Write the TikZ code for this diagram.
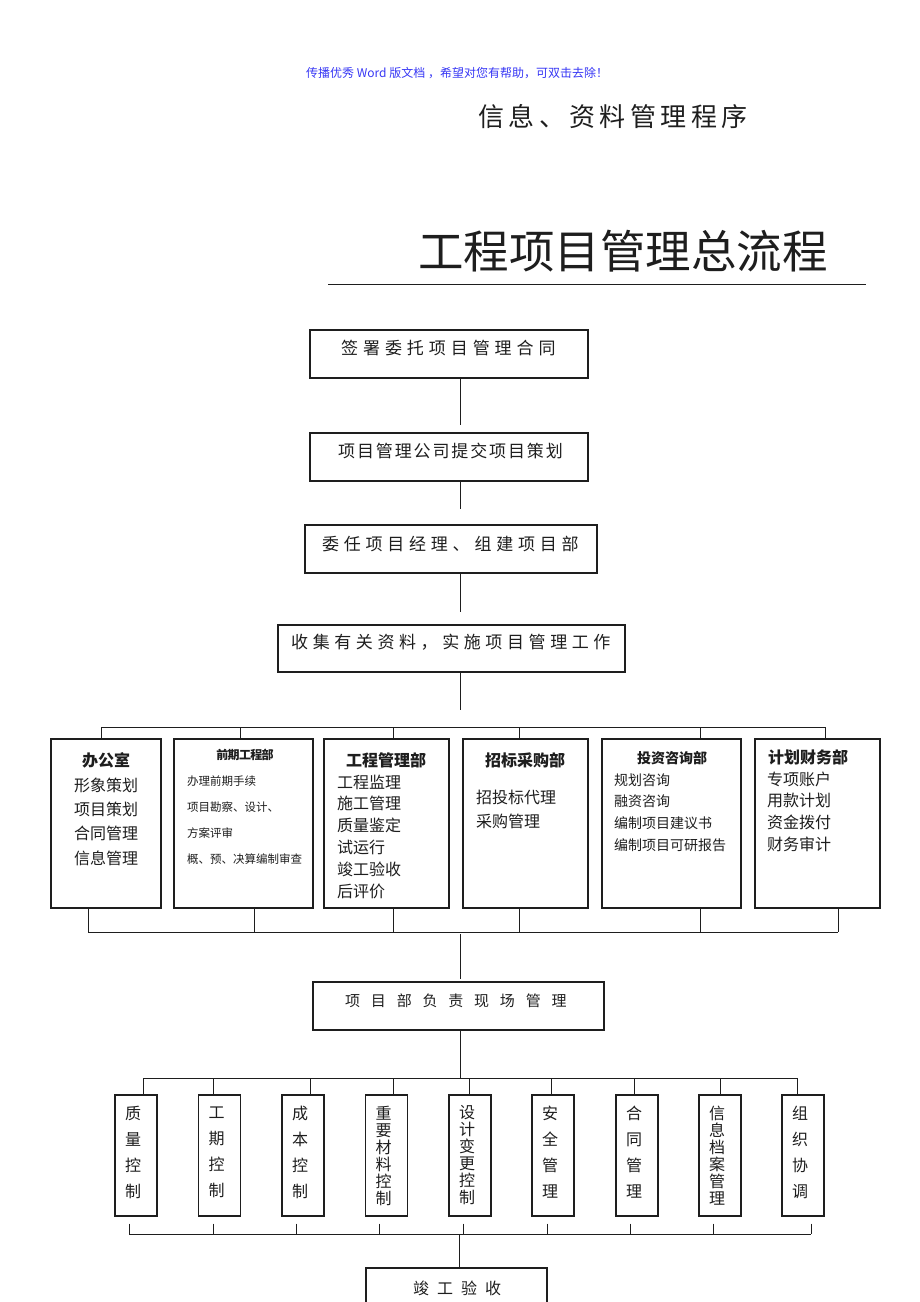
\documentclass[tikz,border=0pt]{standalone}
\usepackage{fontspec}
\setmainfont{Noto Sans CJK SC}
\definecolor{hdrblue}{RGB}{55,55,245}
\definecolor{ink}{RGB}{30,30,30}
\begin{document}
\begin{tikzpicture}[x=1pt,y=-1pt,
  box/.style={draw=ink, line width=1.2pt, inner sep=0pt},
  conn/.style={draw=ink, line width=1pt},
  txt/.style={inner sep=0pt, text=ink},
  f16/.style={font=\fontsize{16}{16}\selectfont},
  f14/.style={font=\fontsize{14}{14}\selectfont},
  f12/.style={font=\fontsize{11.5}{11.5}\selectfont},
  hb16/.style={font=\fontsize{16}{16}\selectfont\bfseries},
  hb14/.style={font=\fontsize{14}{14}\selectfont\bfseries},
  vt4/.style={inner sep=0pt, text=ink, align=center, font=\fontsize{16}{26}\selectfont},
  vt6/.style={inner sep=0pt, text=ink, align=center, font=\fontsize{16}{17}\selectfont}]
\fill[white] (0,0) rectangle (920,1302);
\useasboundingbox (0,0) rectangle (920,1302);

% header and titles
\node[txt, anchor=west, text=hdrblue, font=\fontsize{12}{12}\selectfont] (hdr) at (306,73) {传播优秀 Word 版文档 ，希望对您有帮助，可双击去除！};
\node[txt, anchor=west, font=\fontsize{26}{26}\selectfont\addfontfeature{LetterSpace=17}] (sub) at (478,117) {信息、资料管理程序};
\node[txt, anchor=west, font=\fontsize{45.5}{45.5}\selectfont] (title) at (418,251) {工程项目管理总流程};
\coordinate (ulL) at (328,284); \coordinate (ulR) at (866,284);
\draw[ink, line width=0.8pt] (ulL) -- (ulR);

% main chain
\coordinate (ax) at (460,0);
\node[box, minimum width=278, minimum height=48] (b1) at (449,354) {};
\node[txt, anchor=west, font=\fontsize{17}{17}\selectfont\addfontfeature{LetterSpace=29}] (b1t) at (341,348) {签署委托项目管理合同};
\node[box, minimum width=278, minimum height=48] (b2) at (449,457) {};
\node[txt, anchor=west, font=\fontsize{17}{17}\selectfont\addfontfeature{LetterSpace=11}] (b2t) at (338,451) {项目管理公司提交项目策划};
\node[box, minimum width=292, minimum height=48] (b3) at (451,549) {};
\node[txt, anchor=west, font=\fontsize{17}{17}\selectfont\addfontfeature{LetterSpace=28}] (b3t) at (322,544) {委任项目经理、组建项目部};
\node[box, minimum width=347, minimum height=47] (b4) at (451.5,648.5) {};
\node[txt, anchor=west, font=\fontsize{17}{17}\selectfont\addfontfeature{LetterSpace=27}] (b4t) at (291,642) {收集有关资料，实施项目管理工作};
\draw[conn, shorten >=7pt] (b1.south -| ax) -- (b2.north -| ax);
\draw[conn, shorten >=15pt] (b2.south -| ax) -- (b3.north -| ax);
\draw[conn, shorten >=12pt] (b3.south -| ax) -- (b4.north -| ax);

% top bar to departments
\foreach \i/\x in {1/101,2/240.5,3/393,4/519,5/700,6/825.5} \coordinate (t\i) at (\x,727.5);
\coordinate (tc) at (460,727.5);
\draw[conn, shorten >=18pt] (b4.south -| ax) -- (tc);
\draw[conn] (t1) -- (t6);

% departments
\node[box, minimum width=110, minimum height=169] (dep1) at (106,823.5) {};
\node[box, minimum width=139, minimum height=169] (dep2) at (243.5,823.5) {};
\node[box, minimum width=125, minimum height=169] (dep3) at (386.5,823.5) {};
\node[box, minimum width=125, minimum height=169] (dep4) at (525.5,823.5) {};
\node[box, minimum width=139, minimum height=169] (dep5) at (671.5,823.5) {};
\node[box, minimum width=125, minimum height=169] (dep6) at (817.5,823.5) {};
\foreach \i in {1,...,6} \draw[conn] (t\i) -- (t\i |- dep\i.north);

\node[txt, hb16] (h1) at (106,760) {办公室};
\node[txt, font=\fontsize{12}{12}\selectfont\bfseries\addfontfeature{LetterSpace=-6}] (h2) at (245,755) {前期工程部};
\node[txt, hb16] (h3) at (386,760) {工程管理部};
\node[txt, hb16] (h4) at (525,760) {招标采购部};
\node[txt, hb14] (h5) at (672,758) {投资咨询部};
\node[txt, hb16] (h6) at (808,757) {计划财务部};

\foreach \t [count=\k] in {形象策划,项目策划,合同管理,信息管理}
  \node[txt, f16, anchor=west] (d1i\k) at (74,{785+24.4*(\k-1)}) {\t};
\foreach \t [count=\k] in {办理前期手续,项目勘察、设计、,方案评审,概、预、决算编制审查}
  \node[txt, f12, anchor=west] (d2i\k) at (187,{781+26*(\k-1)}) {\t};
\foreach \t [count=\k] in {工程监理,施工管理,质量鉴定,试运行,竣工验收,后评价}
  \node[txt, f16, anchor=west] (d3i\k) at (337,{782+21.8*(\k-1)}) {\t};
\foreach \t [count=\k] in {招投标代理,采购管理}
  \node[txt, f16, anchor=west] (d4i\k) at (476,{797+24*(\k-1)}) {\t};
\foreach \t [count=\k] in {规划咨询,融资咨询,编制项目建议书,编制项目可研报告}
  \node[txt, f14, anchor=west] (d5i\k) at (614,{780+21.7*(\k-1)}) {\t};
\foreach \t [count=\k] in {专项账户,用款计划,资金拨付,财务审计}
  \node[txt, f16, anchor=west] (d6i\k) at (767,{779+21.7*(\k-1)}) {\t};

% lower bar from departments
\foreach \i/\x in {1/88,2/254,3/393,4/519,5/700,6/838} \coordinate (u\i) at (\x,932);
\draw[conn] (u1) -- (u6);
\foreach \i in {1,...,6} \draw[conn] (dep\i.south -| u\i) -- (u\i);
\coordinate (uc) at (460,932);

% project dept
\node[box, minimum width=291, minimum height=48] (proj) at (458.5,1006) {};
\node[txt, anchor=west, font=\fontsize{15}{15}\selectfont\addfontfeature{LetterSpace=72}] (projt) at (345,1001) {项目部负责现场管理};
\draw[conn, shorten <=2pt, shorten >=2pt] (uc) -- (proj.north -| uc);

% control bar
\foreach \i/\x in {1/143,2/213,3/310,4/393,5/469,6/551,7/634,8/720,9/797} \coordinate (w\i) at (\x,1078);
\coordinate (wc) at (460,1078);
\draw[conn] (proj.south -| wc) -- (wc);
\draw[conn] (w1) -- (w9);

\foreach \i/\x in {1/136,2/219.5,3/303,4/386.5,5/470,6/553,7/637,8/720,9/803}
  \node[box, minimum width=42, minimum height=121] (s\i) at (\x,1155.5) {};
\foreach \i in {1,...,9} \draw[conn] (w\i) -- (w\i |- s\i.north);

\node[vt4] (s1t) at (133,1152) {质\\量\\控\\制};
\node[vt4] (s2t) at (216.5,1152) {工\\期\\控\\制};
\node[vt4] (s3t) at (300,1152) {成\\本\\控\\制};
\node[vt6] (s4t) at (383.5,1155.5) {重\\要\\材\\料\\控\\制};
\node[vt6] (s5t) at (467,1155.5) {设\\计\\变\\更\\控\\制};
\node[vt4] (s6t) at (550,1152) {安\\全\\管\\理};
\node[vt4] (s7t) at (634,1152) {合\\同\\管\\理};
\node[vt6] (s8t) at (717,1155.5) {信\\息\\档\\案\\管\\理};
\node[vt4] (s9t) at (800,1152) {组\\织\\协\\调};

% bottom bar
\foreach \i/\x in {1/129,2/213,3/296,4/379,5/463,6/547,7/630,8/713,9/811} \coordinate (v\i) at (\x,1234);
\foreach \i in {1,...,9} \draw[conn, shorten <=7pt] (s\i.south -| v\i) -- (v\i);
\draw[conn] (v1) -- (v9);
\coordinate (vc) at (459,1234);

\node[box, minimum width=181, minimum height=48] (fin) at (456.5,1292) {};
\node[txt, anchor=west, font=\fontsize{16}{16}\selectfont\addfontfeature{LetterSpace=50}] (fint) at (413,1288) {竣工验收};
\draw[conn] (vc) -- (fin.north -| vc);
\end{tikzpicture}
\end{document}
